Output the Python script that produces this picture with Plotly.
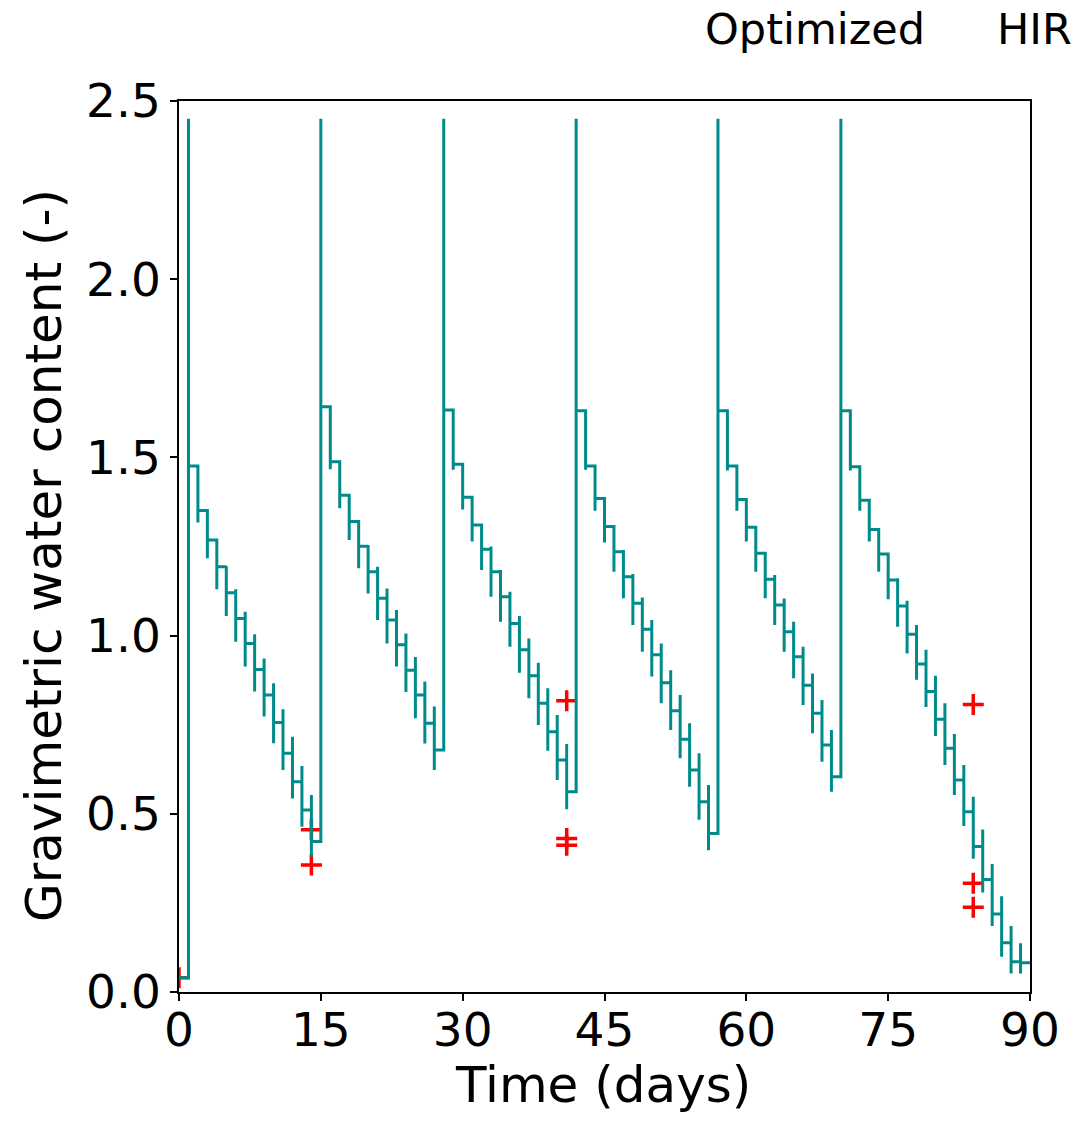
import plotly.graph_objects as go

# ---------------- data ----------------
start_day = 0
start_value = 0.04
end_day = 90

days = list(range(1, 90))
# per-day: spike top, dip low, level held until next day
top = [2.45, 1.476, 1.351, 1.268, 1.195, 1.130, 1.067, 1.004, 0.936, 0.866, 0.793, 0.716, 0.634, 0.553,
       2.45, 1.642, 1.488, 1.394, 1.320, 1.254, 1.193, 1.132, 1.072, 1.006, 0.940, 0.871, 0.801,
       2.45, 1.633, 1.481, 1.388, 1.310, 1.250, 1.184, 1.123, 1.055, 0.992, 0.924, 0.852, 0.777, 0.696,
       2.45, 1.631, 1.476, 1.385, 1.306, 1.240, 1.173, 1.107, 1.044, 0.978, 0.903, 0.833, 0.754, 0.670, 0.581,
       2.45, 1.631, 1.476, 1.382, 1.304, 1.231, 1.170, 1.104, 1.039, 0.969, 0.894, 0.819, 0.735,
       2.45, 1.631, 1.474, 1.380, 1.298, 1.229, 1.161, 1.098, 1.030, 0.960, 0.887, 0.810, 0.724, 0.637,
       0.548, 0.456, 0.359, 0.269, 0.185, 0.137]
low = [1.476, 1.317, 1.217, 1.130, 1.055, 0.983, 0.913, 0.843, 0.773, 0.698, 0.623, 0.543, 0.464, 0.380,
       1.642, 1.467, 1.357, 1.268, 1.189, 1.118, 1.044, 0.978, 0.913, 0.842, 0.768, 0.697, 0.623,
       1.633, 1.465, 1.354, 1.264, 1.184, 1.109, 1.039, 0.969, 0.896, 0.824, 0.749, 0.677, 0.595, 0.513,
       1.631, 1.465, 1.350, 1.261, 1.179, 1.105, 1.030, 0.955, 0.885, 0.810, 0.735, 0.656, 0.576, 0.483, 0.398,
       1.631, 1.463, 1.350, 1.264, 1.179, 1.105, 1.030, 0.955, 0.880, 0.805, 0.726, 0.646, 0.562,
       1.631, 1.463, 1.350, 1.264, 1.179, 1.102, 1.025, 0.950, 0.876, 0.800, 0.718, 0.637, 0.553, 0.466,
       0.374, 0.279, 0.185, 0.099, 0.052, 0.052]
level = [1.476, 1.351, 1.268, 1.193, 1.120, 1.048, 0.978, 0.905, 0.833, 0.756, 0.670, 0.590, 0.511, 0.422,
         1.642, 1.488, 1.394, 1.320, 1.251, 1.179, 1.105, 1.044, 0.974, 0.903, 0.833, 0.754, 0.679,
         1.633, 1.481, 1.388, 1.310, 1.242, 1.179, 1.109, 1.034, 0.960, 0.887, 0.810, 0.730, 0.651, 0.562,
         1.631, 1.476, 1.385, 1.306, 1.235, 1.165, 1.091, 1.018, 0.946, 0.868, 0.789, 0.709, 0.623, 0.534, 0.445,
         1.631, 1.476, 1.382, 1.304, 1.231, 1.158, 1.086, 1.011, 0.941, 0.861, 0.782, 0.693, 0.604,
         1.631, 1.474, 1.380, 1.298, 1.229, 1.156, 1.083, 1.004, 0.920, 0.843, 0.765, 0.684, 0.595, 0.506,
         0.408, 0.316, 0.219, 0.138, 0.085, 0.082]

obs_days = [0, 14, 14, 41, 41, 41, 84, 84, 84]
obs_values = [0.04, 0.455, 0.356, 0.817, 0.431, 0.412, 0.807, 0.305, 0.238]

x_ticks = [0, 15, 30, 45, 60, 75, 90]
y_ticks = [0.0, 0.5, 1.0, 1.5, 2.0, 2.5]

# ---------------- build step path ----------------
xs = [start_day]
ys = [start_value]
prev = start_value
for d, t, l, v in zip(days, top, low, level):
    xs += [d, d, d, d]
    ys += [prev, t, l, v]
    prev = v
xs.append(end_day)
ys.append(prev)

FONT = "DejaVu Sans"
fig = go.Figure()
fig.add_trace(go.Scatter(x=obs_days, y=obs_values, mode="markers",
                         marker=dict(symbol="cross-thin", size=15, color="red",
                                     line=dict(color="red", width=3.5)),
                         showlegend=False))
fig.add_trace(go.Scatter(x=xs, y=ys, mode="lines",
                         line=dict(color="#008B8B", width=3),
                         showlegend=False))

axis_common = dict(showgrid=False, zeroline=False, showline=True, mirror=True,
                   linecolor="black", linewidth=1.5, ticks="outside", ticklen=7,
                   tickwidth=1.5, tickcolor="black",
                   tickfont=dict(family=FONT, size=47, color="black"))
fig.update_xaxes(range=[0, 90], tickvals=x_ticks, ticktext=[str(v) for v in x_ticks],
                 ticklabelstandoff=-11, **axis_common)
fig.update_yaxes(range=[0, 2.5], tickvals=y_ticks, ticktext=[f"{v:.1f}" for v in y_ticks], **axis_common)

fig.update_layout(
    width=1076, height=1121,
    margin=dict(l=179, r=46, t=101, b=129),
    plot_bgcolor="white", paper_bgcolor="white",
    annotations=[
        dict(text="Time (days)", x=(603 - 179) / 851, xref="paper", y=(992 - 1085) / 891, yref="paper",
             xanchor="center", yanchor="middle", showarrow=False,
             font=dict(family=FONT, size=50, color="black")),
        dict(text="Gravimetric water content (-)", x=(44 - 179) / 851, xref="paper",
             y=(992 - 556) / 891, yref="paper",
             xanchor="center", yanchor="middle", textangle=-90, showarrow=False,
             font=dict(family=FONT, size=50, color="black")),
        dict(text="Optimized", x=(703 - 179) / 851, xref="paper", y=(992 - 29) / 891, yref="paper",
             xanchor="left", yanchor="middle", showarrow=False,
             font=dict(family=FONT, size=43, color="black")),
        dict(text="HIR", x=(995 - 179) / 851, xref="paper", y=(992 - 29) / 891, yref="paper",
             xanchor="left", yanchor="middle", showarrow=False,
             font=dict(family=FONT, size=43, color="black")),
    ],
)

fig.write_html("out.html")
